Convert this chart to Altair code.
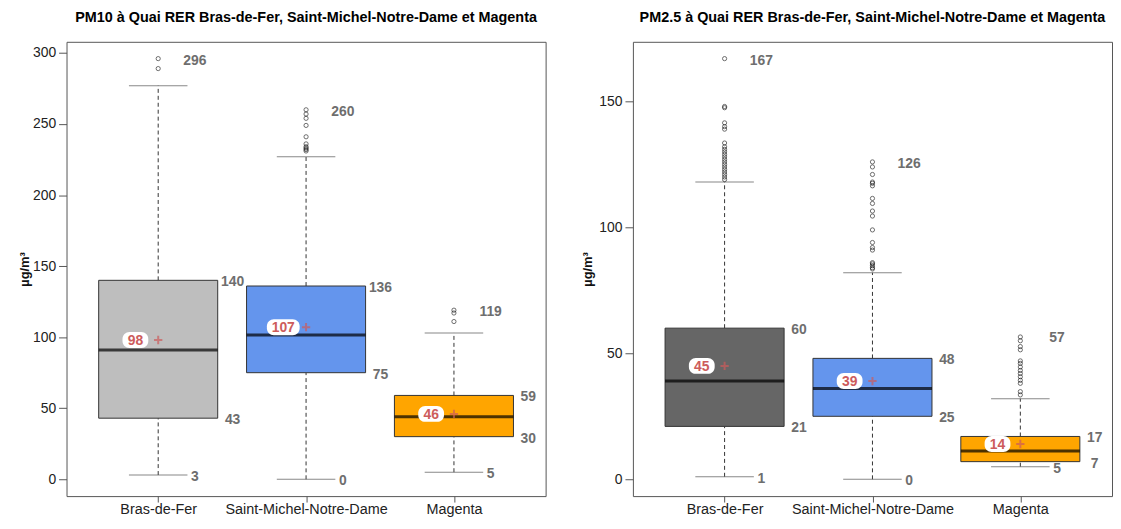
import altair as alt
import pandas as pd

categories = ["Bras-de-Fer", "Saint-Michel-Notre-Dame", "Magenta"]

# PM10 panel
pm10_fill = ["#BEBEBE", "#6495ED", "#FFA500"]
pm10_q1 = [43, 75, 30]
pm10_median = [91, 101.5, 44]
pm10_q3 = [140, 136, 59]
pm10_whisk_lo = [3, 0, 5]
pm10_whisk_hi = [277, 227, 103]
pm10_mean = [98, 107, 46]
pm10_max = [296, 260, 119]
pm10_out_bras = [296, 289]
pm10_out_stm = [260, 257, 254, 249, 241, 236, 234, 233, 232, 231]
pm10_out_mag = [119, 117, 111]
pm10_ticks = [0, 50, 100, 150, 200, 250, 300]
pm10_domain = [-11.84, 307.84]

# PM2.5 panel
pm25_fill = ["#666666", "#6495ED", "#FFA500"]
pm25_q1 = [21, 25, 7]
pm25_median = [39, 36, 11.2]
pm25_q3 = [60, 48, 17]
pm25_whisk_lo = [1, 0, 5]
pm25_whisk_hi = [118, 82, 32]
pm25_mean = [45, 39, 14]
pm25_max = [167, 126, 57]
pm25_out_bras = [167, 148, 147.5, 141.5, 140, 139, 133.5, 132, 131, 130, 129,
                 128, 127, 126, 125, 124, 123, 122, 121, 120, 119]
pm25_out_stm = [126, 124, 121, 118, 117.5, 116.5, 111.5, 109.5, 106.5, 104.5,
                99, 94, 92, 91, 86, 85.5, 84.8, 84, 83.5]
pm25_out_mag = [56.5, 55, 52.7, 51.4, 47, 46, 44.6, 43.2, 42, 40.7, 39.3,
                38.1, 34.8, 33.5]
pm25_ticks = [0, 50, 100, 150]
pm25_domain = [-6.68, 173.68]

FONT = "Liberation Sans"
RED = "#CD5C5C"
GREY_TXT = "#6E6E6E"


def panel(title, fills, q1, med, q3, lo, hi, mean, mx, outs, domain, ticks,
          width, height, title_pad):
    box = pd.DataFrame({"cat": categories, "fill": fills, "q1": q1, "med": med,
                        "q3": q3, "lo": lo, "hi": hi, "mean": mean, "mx": mx})
    rows = []
    for c, vals in zip(categories, outs):
        for v in vals:
            rows.append({"cat": c, "v": v})
    out = pd.DataFrame(rows)

    yaxis = alt.Axis(values=ticks, title="µg/m³", titlePadding=title_pad,
                     titleFont=FONT, titleFontSize=13, titleFontWeight="bold",
                     titleColor="#111", labelFont=FONT, labelFontSize=14,
                     labelColor="#222", tickSize=8, tickColor="#555",
                     labelPadding=3, domain=False, grid=False)
    yscale = alt.Scale(domain=domain, nice=False, zero=False)

    def Y(f):
        return alt.Y(f"{f}:Q", scale=yscale, axis=yaxis)

    X = alt.X("cat:N", sort=categories,
              scale=alt.Scale(type="point", domain=categories, padding=0.62),
              axis=alt.Axis(title=None, labelAngle=0, labelFont=FONT,
                            labelFontSize=14.5, labelColor="#222", tickSize=6,
                            tickColor="#555", labelPadding=1, domain=False,
                            grid=False))
    base = alt.Chart(box).encode(x=X)

    dash = dict(strokeDash=[4, 3], color="#333", strokeWidth=1)
    w_up = base.mark_rule(**dash).encode(y=Y("q3"), y2=alt.Y2("hi:Q"))
    w_dn = base.mark_rule(**dash).encode(y=Y("lo"), y2=alt.Y2("q1:Q"))
    st_up = base.mark_tick(size=59, thickness=1, color="#555").encode(y=Y("hi"))
    st_dn = base.mark_tick(size=59, thickness=1, color="#555").encode(y=Y("lo"))
    boxes = base.mark_bar(size=120, stroke="#333", strokeWidth=1).encode(
        y=Y("q1"), y2=alt.Y2("q3:Q"), color=alt.Color("fill:N", scale=None))
    medians = base.mark_tick(size=120, thickness=3, color="black").encode(y=Y("med"))
    outl = alt.Chart(out).mark_point(shape="circle", size=18, filled=False,
                                     color="black", strokeWidth=0.8).encode(
        x=X, y=Y("v"))
    plus = base.mark_point(shape="M -1 0 L 1 0 M 0 -1 L 0 1", size=70,
                           filled=False, color=RED, strokeWidth=2).encode(y=Y("mean"))
    bg3 = base.transform_filter("datum.mean >= 99.5").mark_rect(
        width=33, height=16, cornerRadius=7, color="white", xOffset=-23).encode(y=Y("mean"))
    bg2 = base.transform_filter("datum.mean < 99.5").mark_rect(
        width=26, height=16, cornerRadius=7, color="white", xOffset=-23).encode(y=Y("mean"))
    mean_txt = base.mark_text(dx=-23, dy=1, font=FONT, fontSize=14, fontWeight="bold",
                              color=RED, align="center", baseline="middle").encode(
        y=Y("mean"), text=alt.Text("mean:Q", format=".0f"))

    lab = dict(font=FONT, fontSize=14, fontWeight="bold", color=GREY_TXT,
               align="center", baseline="middle", dy=2)
    t_q3 = base.mark_text(dx=75, **lab).encode(y=Y("q3"), text=alt.Text("q3:Q", format=".0f"))
    t_q1 = base.mark_text(dx=75, **lab).encode(y=Y("q1"), text=alt.Text("q1:Q", format=".0f"))
    t_mx = base.mark_text(dx=37, **lab).encode(y=Y("mx"), text=alt.Text("mx:Q", format=".0f"))
    t_lo = base.mark_text(dx=37, **lab).encode(y=Y("lo"), text=alt.Text("lo:Q", format=".0f"))

    return alt.layer(w_up, w_dn, st_up, st_dn, boxes, medians, outl, plus,
                     bg3, bg2, mean_txt, t_q3, t_q1, t_mx, t_lo).properties(
        width=width, height=height,
        title=alt.TitleParams(title, font=FONT, fontSize=14.5, fontWeight="bold",
                              color="black", anchor="middle", frame="group",
                              offset=16))


left = panel("PM10 à Quai RER Bras-de-Fer, Saint-Michel-Notre-Dame et Magenta",
             pm10_fill, pm10_q1, pm10_median, pm10_q3, pm10_whisk_lo,
             pm10_whisk_hi, pm10_mean, pm10_max,
             [pm10_out_bras, pm10_out_stm, pm10_out_mag],
             pm10_domain, pm10_ticks, 483, 458, 1)
right = panel("PM2.5 à Quai RER Bras-de-Fer, Saint-Michel-Notre-Dame et Magenta",
              pm25_fill, pm25_q1, pm25_median, pm25_q3, pm25_whisk_lo,
              pm25_whisk_hi, pm25_mean, pm25_max,
              [pm25_out_bras, pm25_out_stm, pm25_out_mag],
              pm25_domain, pm25_ticks, 483, 458, 4)

chart = alt.hconcat(left, right, spacing=35).properties(
    padding={"left": 10, "top": 0, "right": 0, "bottom": 0},
    background="white",
).configure_view(stroke="#555", strokeWidth=1)

chart.save("out.html", embed_options={"renderer": "svg", "actions": False})
